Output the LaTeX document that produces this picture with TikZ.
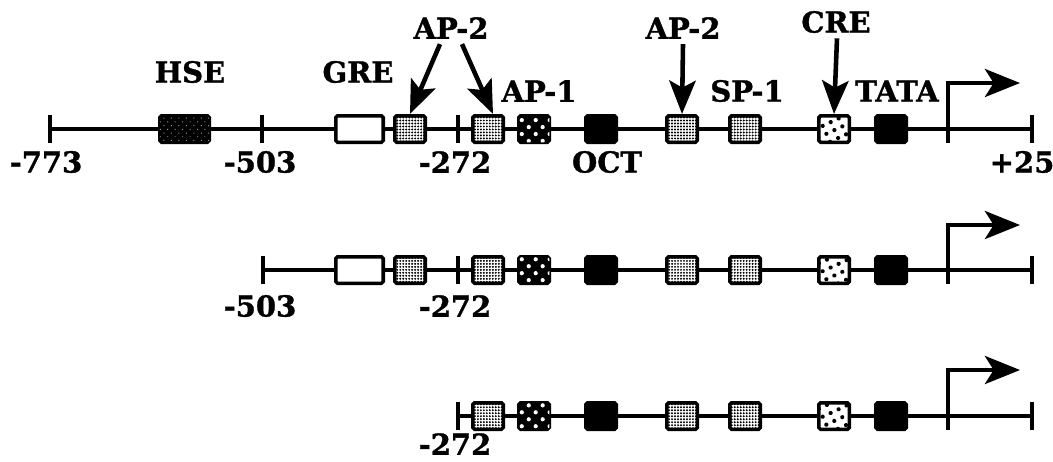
\documentclass[tikz,border=0pt]{standalone}
\usepackage{fontspec}
\setmainfont[BoldFeatures={FakeBold=1.2}]{DejaVu Serif}
\usetikzlibrary{arrows.meta,patterns.meta,calc}

\begin{document}
\begin{tikzpicture}[x=0.02cm,y=-0.02cm,
  site/.style={draw,line width=2pt,rounded corners=1pt,minimum width=0.61cm,minimum height=0.53cm,inner sep=0pt,fill=white},
  apsite/.style={site,postaction={pattern={Dots[distance=1.7pt,radius=0.62pt]}}},
  aponesite/.style={site,fill=black,postaction={pattern={Dots[distance=5.6pt,radius=1.2pt,angle=45]},pattern color=white}},
  cresite/.style={site,postaction={pattern={Dots[distance=5pt,radius=1.2pt,angle=25]}}},
  blksite/.style={site,fill=black},
  hsesite/.style={site,minimum width=0.99cm,fill=black,postaction={pattern={Dots[distance=3pt,radius=0.4pt,angle=45]},pattern color=black!40}},
  gresite/.style={site,minimum width=0.95cm},
  lbl/.style={font=\fontsize{16.5}{19}\selectfont\bfseries,inner sep=0pt},
  dna/.style={line width=2.2pt},
  pointer/.style={line width=2.6pt,-{Stealth[length=19pt,width=15pt,inset=4pt]}},
  tss/.style={line width=2.2pt,-{Stealth[length=20pt,width=16pt,inset=5pt]}}
]
  \useasboundingbox (0,0) rectangle (1053,461);

  % full promoter, -773 to +25
  \coordinate (a1) at (50,129);
  \coordinate (m1) at (262,129);
  \coordinate (k1) at (458,129);
  \coordinate (t1) at (948,129);
  \coordinate (z1) at (1032,129);
  \draw[dna] (a1) -- (z1);
  \draw[dna] ($(a1)+(0,-14)$) -- ($(a1)+(0,14)$);
  \draw[dna] ($(m1)+(0,-14)$) -- ($(m1)+(0,14)$);
  \draw[dna] ($(k1)+(0,-14)$) -- ($(k1)+(0,14)$);
  \draw[dna] ($(z1)+(0,-14)$) -- ($(z1)+(0,14)$);
  \draw[tss] ($(t1)+(0,14)$) -- ($(t1)+(0,-46)$) -- ++(72,0);
  \node[hsesite] (hse1) at (184.5,129) {};
  \node[gresite] (gre1) at (359.5,129) {};
  \node[apsite] (apa1) at (410,129) {};
  \node[apsite] (apb1) at (488,129) {};
  \node[aponesite] (apone1) at (534,129) {};
  \node[blksite] (oct1) at (601,129) {};
  \node[apsite] (apc1) at (682,129) {};
  \node[apsite] (sp1) at (745,129) {};
  \node[cresite] (cre1) at (834,129) {};
  \node[blksite] (tata1) at (891,129) {};

  \node[lbl] (hselbl) at (190,72) {HSE};
  \node[lbl] (grelbl) at (358,72) {GRE};
  \node[lbl] (aplbl) at (451,28) {AP-2};
  \node[lbl] (aponelbl) at (539,91) {AP-1};
  \node[lbl] (apclbl) at (683,28) {AP-2};
  \node[lbl] (splbl) at (747,91) {SP-1};
  \node[lbl] (crelbl) at (836,22) {CRE};
  \node[lbl] (tatalbl) at (897,91) {TATA};
  \node[lbl] (octlbl) at (607,162) {OCT};
  \node[lbl] (n773) at (46,162) {-773};
  \node[lbl] (n503a) at (260,162) {-503};
  \node[lbl] (n272a) at (455,162) {-272};
  \node[lbl] (p25) at (1022,162) {+25};

  \draw[pointer] ($(aplbl.south)+(-11,5)$) -- (apa1.north);
  \draw[pointer] ($(aplbl.south)+(11,5)$) -- ($(apb1.north)+(5,0)$);
  \draw[pointer] ($(apclbl.south)+(0,5)$) -- (apc1.north);
  \draw[pointer] ($(crelbl.south)+(1,5)$) -- (cre1.north);

  % deletion to -503
  \coordinate (a2) at (263,270);
  \coordinate (k2) at (458,270);
  \coordinate (t2) at (948,270);
  \coordinate (z2) at (1032,270);
  \draw[dna] (a2) -- (z2);
  \draw[dna] ($(a2)+(0,-14)$) -- ($(a2)+(0,14)$);
  \draw[dna] ($(k2)+(0,-14)$) -- ($(k2)+(0,14)$);
  \draw[dna] ($(z2)+(0,-14)$) -- ($(z2)+(0,14)$);
  \draw[tss] ($(t2)+(0,14)$) -- ($(t2)+(0,-45)$) -- ++(72,0);
  \node[gresite] (gre2) at (359.5,270) {};
  \node[apsite] (apa2) at (410,270) {};
  \node[apsite] (apb2) at (488,270) {};
  \node[aponesite] (apone2) at (534,270) {};
  \node[blksite] (oct2) at (601,270) {};
  \node[apsite] (apc2) at (682,270) {};
  \node[apsite] (sp2) at (745,270) {};
  \node[cresite] (cre2) at (834,270) {};
  \node[blksite] (tata2) at (891,270) {};
  \node[lbl] (n503b) at (260,306) {-503};
  \node[lbl] (n272b) at (455,306) {-272};

  % deletion to -272
  \coordinate (k3) at (458,416);
  \coordinate (t3) at (948,416);
  \coordinate (z3) at (1032,416);
  \draw[dna] (k3) -- (z3);
  \draw[dna] ($(k3)+(0,-14)$) -- ($(k3)+(0,14)$);
  \draw[dna] ($(z3)+(0,-14)$) -- ($(z3)+(0,14)$);
  \draw[tss] ($(t3)+(0,14)$) -- ($(t3)+(0,-46)$) -- ++(72,0);
  \node[apsite] (apb3) at (488,416) {};
  \node[aponesite] (apone3) at (534,416) {};
  \node[blksite] (oct3) at (601,416) {};
  \node[apsite] (apc3) at (682,416) {};
  \node[apsite] (sp3) at (745,416) {};
  \node[cresite] (cre3) at (834,416) {};
  \node[blksite] (tata3) at (891,416) {};
  \node[lbl] (n272c) at (455,444) {-272};
\end{tikzpicture}
\end{document}
